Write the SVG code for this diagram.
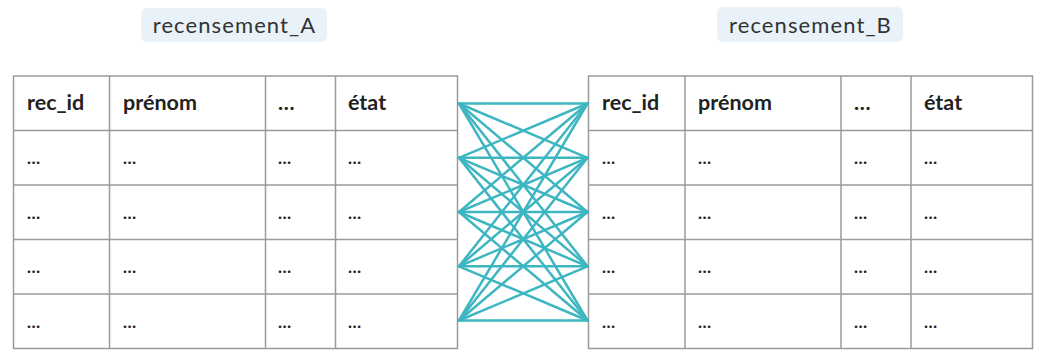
<svg xmlns="http://www.w3.org/2000/svg" width="1043" height="361" viewBox="0 0 1043 361">
<style>
.pill{fill:#e9f2f9}
.ttl{font-family:Lato,"Liberation Sans",sans-serif;font-size:22px;letter-spacing:1.1px;fill:#333;text-anchor:middle}
.grid{fill:#fff;stroke:#9a9a9a;stroke-width:1.5}
.h{font-family:Lato,"Liberation Sans",sans-serif;font-size:21.5px;font-weight:bold;fill:#222}
.c{font-family:Lato,"Liberation Sans",sans-serif;font-size:17px;font-weight:bold;fill:#222}
.ln{stroke:#3db6c1;stroke-width:2.5;stroke-linecap:round}
</style>
<rect width="1043" height="361" fill="#fff"/>
<g id="title_A">
<rect class="pill" x="141" y="8" width="186" height="34" rx="6"/>
<text class="ttl" x="234.5" y="33">recensement_A</text>
</g>
<g id="title_B">
<rect class="pill" x="717" y="7" width="186" height="35" rx="6"/>
<text class="ttl" x="810.5" y="33">recensement_B</text>
</g>
<g id="table_A">
<rect class="grid" x="13.5" y="76" width="444" height="272.5"/>
<path class="grid" d="M109.5 76V348.5M265.5 76V348.5M335.5 76V348.5M13.5 130.5H457.5M13.5 185H457.5M13.5 239.5H457.5M13.5 294H457.5"/>
<text class="h" x="27" y="110">rec_id</text>
<text class="h" x="123" y="110">prénom</text>
<text class="h" x="278" y="110">…</text>
<text class="h" x="348" y="110">état</text>
<g class="c">
<text x="27" y="164">…</text><text x="123" y="164">…</text><text x="278" y="164">…</text><text x="348" y="164">…</text>
<text x="27" y="219">…</text><text x="123" y="219">…</text><text x="278" y="219">…</text><text x="348" y="219">…</text>
<text x="27" y="273">…</text><text x="123" y="273">…</text><text x="278" y="273">…</text><text x="348" y="273">…</text>
<text x="27" y="328">…</text><text x="123" y="328">…</text><text x="278" y="328">…</text><text x="348" y="328">…</text>
</g>
</g>
<g id="table_B">
<rect class="grid" x="588.5" y="76" width="444" height="272.5"/>
<path class="grid" d="M685 76V348.5M841 76V348.5M911 76V348.5M588.5 130.5H1032.5M588.5 185H1032.5M588.5 239.5H1032.5M588.5 294H1032.5"/>
<text class="h" x="602" y="110">rec_id</text>
<text class="h" x="698" y="110">prénom</text>
<text class="h" x="854" y="110">…</text>
<text class="h" x="924" y="110">état</text>
<g class="c">
<text x="602" y="164">…</text><text x="698" y="164">…</text><text x="854" y="164">…</text><text x="924" y="164">…</text>
<text x="602" y="219">…</text><text x="698" y="219">…</text><text x="854" y="219">…</text><text x="924" y="219">…</text>
<text x="602" y="273">…</text><text x="698" y="273">…</text><text x="854" y="273">…</text><text x="924" y="273">…</text>
<text x="602" y="328">…</text><text x="698" y="328">…</text><text x="854" y="328">…</text><text x="924" y="328">…</text>
</g>
</g>
<g id="connectors" class="ln">
<line x1="459" y1="103.5" x2="587.5" y2="103.5"/><line x1="459" y1="103.5" x2="587.5" y2="157.8"/><line x1="459" y1="103.5" x2="587.5" y2="212"/><line x1="459" y1="103.5" x2="587.5" y2="266.3"/><line x1="459" y1="103.5" x2="587.5" y2="320.5"/>
<line x1="459" y1="157.8" x2="587.5" y2="103.5"/><line x1="459" y1="157.8" x2="587.5" y2="157.8"/><line x1="459" y1="157.8" x2="587.5" y2="212"/><line x1="459" y1="157.8" x2="587.5" y2="266.3"/><line x1="459" y1="157.8" x2="587.5" y2="320.5"/>
<line x1="459" y1="212" x2="587.5" y2="103.5"/><line x1="459" y1="212" x2="587.5" y2="157.8"/><line x1="459" y1="212" x2="587.5" y2="212"/><line x1="459" y1="212" x2="587.5" y2="266.3"/><line x1="459" y1="212" x2="587.5" y2="320.5"/>
<line x1="459" y1="266.3" x2="587.5" y2="103.5"/><line x1="459" y1="266.3" x2="587.5" y2="157.8"/><line x1="459" y1="266.3" x2="587.5" y2="212"/><line x1="459" y1="266.3" x2="587.5" y2="266.3"/><line x1="459" y1="266.3" x2="587.5" y2="320.5"/>
<line x1="459" y1="320.5" x2="587.5" y2="103.5"/><line x1="459" y1="320.5" x2="587.5" y2="157.8"/><line x1="459" y1="320.5" x2="587.5" y2="212"/><line x1="459" y1="320.5" x2="587.5" y2="266.3"/><line x1="459" y1="320.5" x2="587.5" y2="320.5"/>
</g>
</svg>
